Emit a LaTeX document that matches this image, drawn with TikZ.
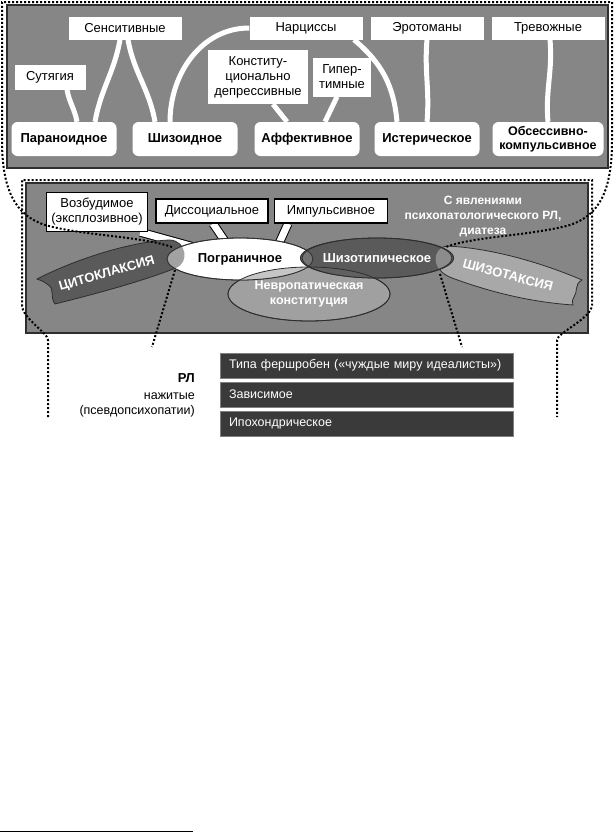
\documentclass[tikz,border=0pt]{standalone}
\usepackage{fontspec}
\setmainfont{Liberation Sans}
\usetikzlibrary{shapes.geometric}

\pgfdeclarelayer{bg}
\pgfdeclarelayer{links}
\pgfsetlayers{bg,links,main}

\definecolor{panel}{HTML}{868686}
\definecolor{edge}{HTML}{2E2E2E}
\definecolor{darkfill}{HTML}{5A5A5A}
\definecolor{lightfill}{HTML}{A8A8A8}
\definecolor{midfill}{HTML}{A0A0A0}
\definecolor{boxfill}{HTML}{3A3A3A}

\tikzstyle{tname}=[fill=white, inner sep=0pt, align=center, font=\fontsize{13}{15}\selectfont]
\tikzstyle{ptype}=[fill=white, rounded corners=6pt, inner sep=0pt, minimum width=105pt, minimum height=34pt, align=center, font=\bfseries\fontsize{13}{15}\selectfont]
\tikzstyle{subtype}=[fill=white, draw=black, line width=1.2pt, inner sep=0pt, align=center, font=\fontsize{13}{15}\selectfont]
\tikzstyle{link}=[white, line width=5pt]
\tikzstyle{tailback}=[black, line width=9pt]
\tikzstyle{tailfront}=[white, line width=7pt]
\tikzstyle{oval}=[ellipse, inner sep=0pt, draw=edge, line width=0.8pt, align=center, font=\bfseries\fontsize{13}{15}\selectfont]
\tikzstyle{bound}=[dash pattern=on 2pt off 2pt, line width=2pt]
\tikzstyle{ribbontext}=[text=white, inner sep=0pt, font=\bfseries\fontsize{13}{15}\selectfont]
\tikzstyle{darkbox}=[fill=boxfill, draw=gray, line width=0.8pt, text=white, inner xsep=9pt, inner ysep=0pt, minimum height=25pt, text width=275pt, align=left, font=\fontsize{12.5}{14}\selectfont]
\tikzstyle{rltext}=[anchor=east, inner sep=0pt, font=\fontsize{12.5}{15}\selectfont]

\def\citopath{(37,-279) .. controls (80,-257) and (135,-241) .. (170,-240) .. controls (186,-241) and (190,-262) .. (176,-268) .. controls (140,-282) and (95,-294) .. (55,-304) .. controls (49,-296) and (56,-289) .. (47,-284) .. controls (43,-281) and (40,-280) .. cycle}
\def\taxipath{(447,-246) .. controls (490,-248) and (540,-262) .. (582,-280) .. controls (574,-284) and (578,-292) .. (574,-297) .. controls (572,-300) and (572,-303) .. (573,-305) .. controls (530,-302) and (490,-292) .. (452,-278) .. controls (430,-270) and (432,-248) .. cycle}

\begin{document}
\begin{tikzpicture}[x=1pt, y=1pt]
\useasboundingbox (0,0) rectangle (615,-833);

% panels
\begin{pgfonlayer}{bg}
\fill[panel] (7,-5) rectangle (608,-168);
\draw[edge, line width=1.5pt] (7,-5) rectangle (608,-168);
\fill[panel] (26,-183) rectangle (588,-333);
\draw[edge, line width=1.5pt] (26,-183) rectangle (588,-333);
\end{pgfonlayer}

% upper part
\foreach \nm/\x/\txt in {sens/125/Сенситивные, narc/306/Нарциссы, erot/427/Эротоманы, trev/548/Тревожные}{
  \node[tname, minimum width=113pt, minimum height=23pt] (\nm) at (\x,-28) {\txt};
}
\node[tname, minimum width=71pt, minimum height=25pt] (sut) at (50,-77) {Сутягия};
\node[tname, minimum width=100pt, minimum height=54pt] (konst) at (258,-77) {Конститу-\\ционально\\депрессивные};
\node[tname, minimum width=58pt, minimum height=39pt] (giper) at (342,-77) {Гипер-\\тимные};

\foreach \nm/\x/\txt in {par/64/Параноидное, shiz/185/Шизоидное, aff/307/Аффективное, ist/427/Истерическое}{
  \node[ptype] (\nm) at (\x,-139) {\txt};
}
\node[ptype, minimum width=111pt, font=\bfseries\fontsize{12.5}{14}\selectfont] (obs) at (548,-139) {Обсессивно-\\компульсивное};

\begin{pgfonlayer}{links}
\draw[link] ([xshift=17pt]sut.south) to[out=-80,in=100] ([xshift=13pt]par.north);
\draw[link] ([xshift=-5pt]sens.south) to[out=-100,in=80] ([xshift=31pt]par.north);
\draw[link] ([xshift=3pt]sens.south) to[out=-80,in=100] ([xshift=-30pt]shiz.north);
\draw[link] (narc.west) to[out=180,in=90] ([xshift=-15pt]shiz.north);
\draw[link] ([xshift=48pt]narc.south) to[out=-40,in=95] ([xshift=-30pt]ist.north);
\draw[link] ([xshift=15pt]konst.south) -- ([xshift=-20pt]aff.north);
\draw[link] ([xshift=-5pt]giper.south) -- ([xshift=18pt]aff.north);
\draw[link] (erot.south) to[out=-95,in=85] (ist.north);
\draw[link] ([xshift=2pt]trev.south) to[out=-85,in=95] (obs.north);
\end{pgfonlayer}

% lower part
\node[subtype, minimum width=101pt, minimum height=39pt] (vozb) at (97,-212) {Возбудимое\\(эксплозивное)};
\node[subtype, minimum width=112pt, minimum height=24pt] (diss) at (212,-211) {Диссоциальное};
\node[subtype, minimum width=113pt, minimum height=24pt] (imp) at (331,-211) {Импульсивное};
\node[text=white, align=center, font=\bfseries\fontsize{12}{15}\selectfont] (diat) at (483,-217) {С явлениями\\психопатологического РЛ,\\диатеза};

\filldraw[fill=darkfill, draw=edge, line width=0.8pt] \citopath;
\filldraw[fill=lightfill, draw=edge, line width=0.8pt] \taxipath;

\node[oval, fill=midfill, text=white, minimum width=162pt, minimum height=54pt, font=\bfseries\fontsize{12.5}{15}\selectfont] (nevr) at (309,-294) {Невропатическая\\конституция};
\node[oval, fill=white, minimum width=146pt, minimum height=42pt] (pogr) at (240,-259) {Пограничное};
\node[oval, fill=darkfill, text=white, minimum width=150pt, minimum height=40pt] (shizt) at (377,-258) {Шизотипическое};

\begin{scope}
\clip (pogr.center) ellipse [x radius=73pt, y radius=21pt];
\fill[gray!55!black!50] \citopath;
\fill[gray!45] (nevr.center) ellipse [x radius=81pt, y radius=27pt];
\fill[gray!90!black] (shizt.center) ellipse [x radius=75pt, y radius=20pt];
\end{scope}
\begin{scope}
\clip (shizt.center) ellipse [x radius=75pt, y radius=20pt];
\fill[black!62] (nevr.center) ellipse [x radius=81pt, y radius=27pt];
\fill[black!45] \taxipath;
\end{scope}
\draw[edge, line width=0.8pt] (pogr.center) ellipse [x radius=73pt, y radius=21pt];
\draw[edge, line width=0.8pt] (shizt.center) ellipse [x radius=75pt, y radius=20pt];
\draw[edge, line width=0.8pt] (nevr.center) ellipse [x radius=81pt, y radius=27pt];

\node[ribbontext, rotate=16] (cito) at (107,-274) {ЦИТОКЛАКСИЯ};
\node[ribbontext, rotate=-15] (taxi) at (508,-275) {ШИЗОТАКСИЯ};

\begin{pgfonlayer}{links}
\draw[tailback] ([xshift=-8pt]vozb.south east) -- ([xshift=-35pt,yshift=9pt]pogr.center);
\draw[tailfront] ([xshift=-8pt]vozb.south east) -- ([xshift=-35pt,yshift=9pt]pogr.center);
\draw[tailback] ([xshift=1pt]diss.south) -- ([xshift=-12pt,yshift=-8pt]pogr.north);
\draw[tailfront] ([xshift=1pt]diss.south) -- ([xshift=-12pt,yshift=-8pt]pogr.north);
\draw[tailback] ([xshift=-43pt]imp.south) -- ([xshift=38pt,yshift=-8pt]pogr.north);
\draw[tailfront] ([xshift=-43pt]imp.south) -- ([xshift=38pt,yshift=-8pt]pogr.north);
\end{pgfonlayer}

% acquired
\foreach \nm/\y/\txt in {fersh/-365.5/{\mbox{Типа фершробен («чуждые миру идеалисты»)}}, zav/-394.5/Зависимое, ipoh/-423.5/Ипохондрическое}{
  \node[darkbox] (\nm) at (366.5,\y) {\txt};
}
\node[rltext, font=\bfseries\fontsize{13}{15}\selectfont] (rl) at (195,-378) {РЛ};
\node[rltext] (nazh) at (195,-396) {нажитые};
\node[rltext] (psev) at (195,-411) {(псевдопсихопатии)};

% dotted borders
\draw[bound] (172,-247) .. controls (140,-236) and (85,-236) .. (45,-225) .. controls (15,-215) and (2,-190) .. (2,-140) -- (2,-2) -- (612,-2) -- (612,-140) .. controls (612,-190) and (600,-215) .. (570,-225) .. controls (530,-236) and (475,-236) .. (446,-247);
\draw[bound] (48,-417) -- (48,-340) .. controls (48,-333) and (22,-318) .. (22,-305) -- (22,-180) -- (592,-180) -- (592,-305) .. controls (592,-318) and (557,-333) .. (557,-340) -- (557,-417);
\draw[bound] (175,-270) -- (152,-347);
\draw[bound] (440,-274) -- (462,-347);

\draw[line width=1pt] (0,-831.5) -- (193,-831.5);
\end{tikzpicture}
\end{document}
